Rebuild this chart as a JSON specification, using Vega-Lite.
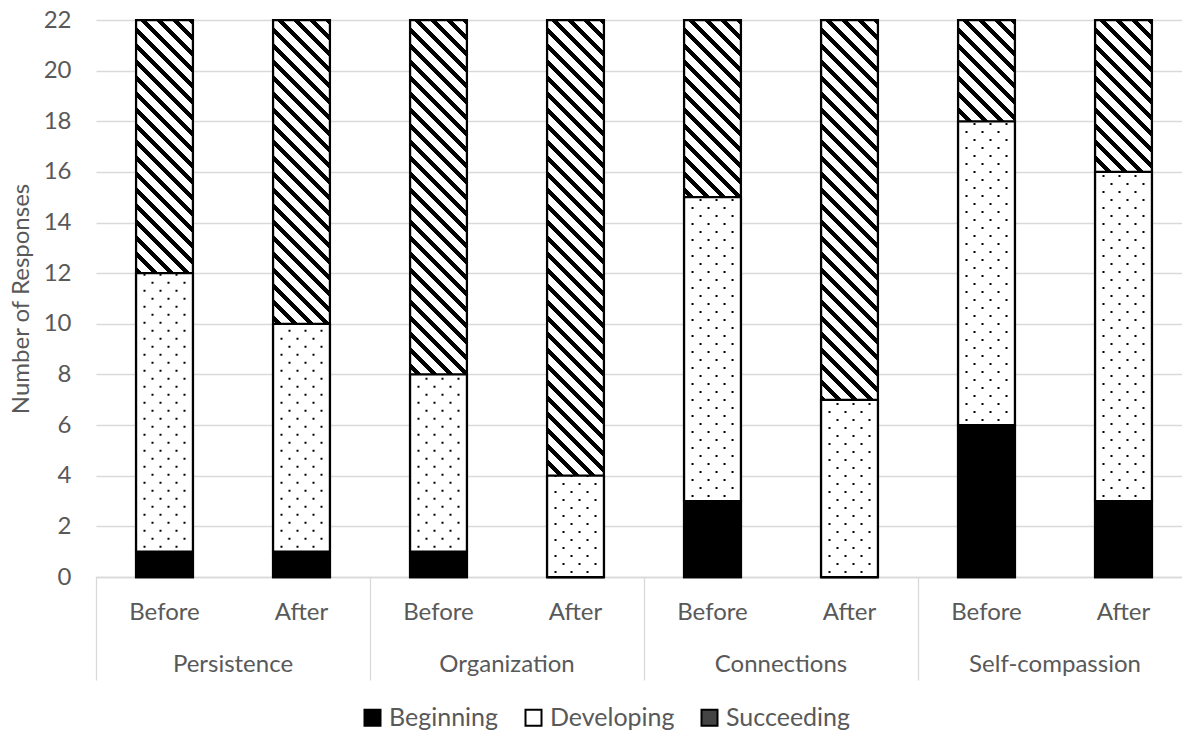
{
  "$schema": "https://vega.github.io/schema/vega-lite/v6.json",
  "width": 1086,
  "height": 557,
  "autosize": "none",
  "padding": {"left": 96, "top": 20, "right": 0, "bottom": 155},
  "config": {
    "view": {"stroke": null},
    "axis": {"labelFont": "Lato", "titleFont": "Lato"},
    "axisY": {
      "domain": false,
      "ticks": false,
      "grid": true,
      "gridColor": "#d9d9d9",
      "gridWidth": 1.3,
      "labelFontSize": 24,
      "labelColor": "#595959",
      "labelPadding": 25,
      "titleFontSize": 24,
      "titleFontWeight": "normal",
      "titleColor": "#595959",
      "titlePadding": 10
    },
    "legend": {"labelFont": "Lato"}
  },
  "data": {
    "values": [
      {"group": "Persistence", "phase": "Before", "bar": "Persistence Before", "series": "Beginning", "count": 1},
      {"group": "Persistence", "phase": "Before", "bar": "Persistence Before", "series": "Developing", "count": 11},
      {"group": "Persistence", "phase": "Before", "bar": "Persistence Before", "series": "Succeeding", "count": 10},
      {"group": "Persistence", "phase": "After", "bar": "Persistence After", "series": "Beginning", "count": 1},
      {"group": "Persistence", "phase": "After", "bar": "Persistence After", "series": "Developing", "count": 9},
      {"group": "Persistence", "phase": "After", "bar": "Persistence After", "series": "Succeeding", "count": 12},
      {"group": "Organization", "phase": "Before", "bar": "Organization Before", "series": "Beginning", "count": 1},
      {"group": "Organization", "phase": "Before", "bar": "Organization Before", "series": "Developing", "count": 7},
      {"group": "Organization", "phase": "Before", "bar": "Organization Before", "series": "Succeeding", "count": 14},
      {"group": "Organization", "phase": "After", "bar": "Organization After", "series": "Beginning", "count": 0},
      {"group": "Organization", "phase": "After", "bar": "Organization After", "series": "Developing", "count": 4},
      {"group": "Organization", "phase": "After", "bar": "Organization After", "series": "Succeeding", "count": 18},
      {"group": "Connections", "phase": "Before", "bar": "Connections Before", "series": "Beginning", "count": 3},
      {"group": "Connections", "phase": "Before", "bar": "Connections Before", "series": "Developing", "count": 12},
      {"group": "Connections", "phase": "Before", "bar": "Connections Before", "series": "Succeeding", "count": 7},
      {"group": "Connections", "phase": "After", "bar": "Connections After", "series": "Beginning", "count": 0},
      {"group": "Connections", "phase": "After", "bar": "Connections After", "series": "Developing", "count": 7},
      {"group": "Connections", "phase": "After", "bar": "Connections After", "series": "Succeeding", "count": 15},
      {"group": "Self-compassion", "phase": "Before", "bar": "Self-compassion Before", "series": "Beginning", "count": 6},
      {"group": "Self-compassion", "phase": "Before", "bar": "Self-compassion Before", "series": "Developing", "count": 12},
      {"group": "Self-compassion", "phase": "Before", "bar": "Self-compassion Before", "series": "Succeeding", "count": 4},
      {"group": "Self-compassion", "phase": "After", "bar": "Self-compassion After", "series": "Beginning", "count": 3},
      {"group": "Self-compassion", "phase": "After", "bar": "Self-compassion After", "series": "Developing", "count": 13},
      {"group": "Self-compassion", "phase": "After", "bar": "Self-compassion After", "series": "Succeeding", "count": 6}
    ]
  },
  "transform": [
    {"stack": "count", "groupby": ["bar"], "sort": [{"field": "series", "order": "ascending"}], "as": ["y0", "y1"]}
  ],
  "layer": [
    {
      "encoding": {
        "x": {
          "field": "bar",
          "type": "nominal",
          "sort": ["Persistence Before", "Persistence After", "Organization Before", "Organization After", "Connections Before", "Connections After", "Self-compassion Before", "Self-compassion After"],
          "scale": {"type": "band", "paddingInner": 0.585, "paddingOuter": 0.2925, "range": [0, 1096]},
          "axis": {
            "title": null,
            "orient": "bottom",
            "labelExpr": "split(datum.label, ' ')[1]",
            "labelAngle": 0,
            "ticks": false,
            "domain": true,
            "domainColor": "#d9d9d9",
            "domainWidth": 1.3,
            "grid": false,
            "labelPadding": 23,
            "labelFontSize": 24,
            "labelColor": "#595959"
          }
        }
      },
      "layer": [
        {
          "transform": [{"filter": "datum.series === 'Succeeding'"}],
          "mark": {
            "type": "bar",
            "stroke": "#000000",
            "strokeWidth": 2.25,
            "fill": {
              "gradient": "linear",
              "x1": 0, "y1": 1, "x2": 0.11133, "y2": -0.09067,
              "stops": [
                {"offset": 0, "color": "#000"}, {"offset": 0.00977, "color": "#000"}, {"offset": 0.00977, "color": "#fff"}, {"offset": 0.02607, "color": "#fff"},
                {"offset": 0.02607, "color": "#000"}, {"offset": 0.03584, "color": "#000"}, {"offset": 0.03584, "color": "#fff"}, {"offset": 0.05213, "color": "#fff"},
                {"offset": 0.05213, "color": "#000"}, {"offset": 0.0619, "color": "#000"}, {"offset": 0.0619, "color": "#fff"}, {"offset": 0.0782, "color": "#fff"},
                {"offset": 0.0782, "color": "#000"}, {"offset": 0.08797, "color": "#000"}, {"offset": 0.08797, "color": "#fff"}, {"offset": 0.10426, "color": "#fff"},
                {"offset": 0.10426, "color": "#000"}, {"offset": 0.11403, "color": "#000"}, {"offset": 0.11403, "color": "#fff"}, {"offset": 0.13033, "color": "#fff"},
                {"offset": 0.13033, "color": "#000"}, {"offset": 0.1401, "color": "#000"}, {"offset": 0.1401, "color": "#fff"}, {"offset": 0.15639, "color": "#fff"},
                {"offset": 0.15639, "color": "#000"}, {"offset": 0.16616, "color": "#000"}, {"offset": 0.16616, "color": "#fff"}, {"offset": 0.18246, "color": "#fff"},
                {"offset": 0.18246, "color": "#000"}, {"offset": 0.19223, "color": "#000"}, {"offset": 0.19223, "color": "#fff"}, {"offset": 0.20852, "color": "#fff"},
                {"offset": 0.20852, "color": "#000"}, {"offset": 0.21829, "color": "#000"}, {"offset": 0.21829, "color": "#fff"}, {"offset": 0.23459, "color": "#fff"},
                {"offset": 0.23459, "color": "#000"}, {"offset": 0.24436, "color": "#000"}, {"offset": 0.24436, "color": "#fff"}, {"offset": 0.26065, "color": "#fff"},
                {"offset": 0.26065, "color": "#000"}, {"offset": 0.27042, "color": "#000"}, {"offset": 0.27042, "color": "#fff"}, {"offset": 0.28672, "color": "#fff"},
                {"offset": 0.28672, "color": "#000"}, {"offset": 0.29649, "color": "#000"}, {"offset": 0.29649, "color": "#fff"}, {"offset": 0.31278, "color": "#fff"},
                {"offset": 0.31278, "color": "#000"}, {"offset": 0.32255, "color": "#000"}, {"offset": 0.32255, "color": "#fff"}, {"offset": 0.33885, "color": "#fff"},
                {"offset": 0.33885, "color": "#000"}, {"offset": 0.34862, "color": "#000"}, {"offset": 0.34862, "color": "#fff"}, {"offset": 0.36491, "color": "#fff"},
                {"offset": 0.36491, "color": "#000"}, {"offset": 0.37468, "color": "#000"}, {"offset": 0.37468, "color": "#fff"}, {"offset": 0.39098, "color": "#fff"},
                {"offset": 0.39098, "color": "#000"}, {"offset": 0.40075, "color": "#000"}, {"offset": 0.40075, "color": "#fff"}, {"offset": 0.41704, "color": "#fff"},
                {"offset": 0.41704, "color": "#000"}, {"offset": 0.42681, "color": "#000"}, {"offset": 0.42681, "color": "#fff"}, {"offset": 0.44311, "color": "#fff"},
                {"offset": 0.44311, "color": "#000"}, {"offset": 0.45288, "color": "#000"}, {"offset": 0.45288, "color": "#fff"}, {"offset": 0.46917, "color": "#fff"},
                {"offset": 0.46917, "color": "#000"}, {"offset": 0.47894, "color": "#000"}, {"offset": 0.47894, "color": "#fff"}, {"offset": 0.49524, "color": "#fff"},
                {"offset": 0.49524, "color": "#000"}, {"offset": 0.50501, "color": "#000"}, {"offset": 0.50501, "color": "#fff"}, {"offset": 0.5213, "color": "#fff"},
                {"offset": 0.5213, "color": "#000"}, {"offset": 0.53107, "color": "#000"}, {"offset": 0.53107, "color": "#fff"}, {"offset": 0.54737, "color": "#fff"},
                {"offset": 0.54737, "color": "#000"}, {"offset": 0.55714, "color": "#000"}, {"offset": 0.55714, "color": "#fff"}, {"offset": 0.57343, "color": "#fff"},
                {"offset": 0.57343, "color": "#000"}, {"offset": 0.5832, "color": "#000"}, {"offset": 0.5832, "color": "#fff"}, {"offset": 0.5995, "color": "#fff"},
                {"offset": 0.5995, "color": "#000"}, {"offset": 0.60927, "color": "#000"}, {"offset": 0.60927, "color": "#fff"}, {"offset": 0.62556, "color": "#fff"},
                {"offset": 0.62556, "color": "#000"}, {"offset": 0.63533, "color": "#000"}, {"offset": 0.63533, "color": "#fff"}, {"offset": 0.65163, "color": "#fff"},
                {"offset": 0.65163, "color": "#000"}, {"offset": 0.6614, "color": "#000"}, {"offset": 0.6614, "color": "#fff"}, {"offset": 0.67769, "color": "#fff"},
                {"offset": 0.67769, "color": "#000"}, {"offset": 0.68746, "color": "#000"}, {"offset": 0.68746, "color": "#fff"}, {"offset": 0.70376, "color": "#fff"},
                {"offset": 0.70376, "color": "#000"}, {"offset": 0.71353, "color": "#000"}, {"offset": 0.71353, "color": "#fff"}, {"offset": 0.72982, "color": "#fff"},
                {"offset": 0.72982, "color": "#000"}, {"offset": 0.73959, "color": "#000"}, {"offset": 0.73959, "color": "#fff"}, {"offset": 0.75589, "color": "#fff"},
                {"offset": 0.75589, "color": "#000"}, {"offset": 0.76566, "color": "#000"}, {"offset": 0.76566, "color": "#fff"}, {"offset": 0.78195, "color": "#fff"},
                {"offset": 0.78195, "color": "#000"}, {"offset": 0.79172, "color": "#000"}, {"offset": 0.79172, "color": "#fff"}, {"offset": 0.80802, "color": "#fff"},
                {"offset": 0.80802, "color": "#000"}, {"offset": 0.81779, "color": "#000"}, {"offset": 0.81779, "color": "#fff"}, {"offset": 0.83408, "color": "#fff"},
                {"offset": 0.83408, "color": "#000"}, {"offset": 0.84385, "color": "#000"}, {"offset": 0.84385, "color": "#fff"}, {"offset": 0.86015, "color": "#fff"},
                {"offset": 0.86015, "color": "#000"}, {"offset": 0.86992, "color": "#000"}, {"offset": 0.86992, "color": "#fff"}, {"offset": 0.88621, "color": "#fff"},
                {"offset": 0.88621, "color": "#000"}, {"offset": 0.89598, "color": "#000"}, {"offset": 0.89598, "color": "#fff"}, {"offset": 0.91228, "color": "#fff"},
                {"offset": 0.91228, "color": "#000"}, {"offset": 0.92205, "color": "#000"}, {"offset": 0.92205, "color": "#fff"}, {"offset": 0.93834, "color": "#fff"},
                {"offset": 0.93834, "color": "#000"}, {"offset": 0.94811, "color": "#000"}, {"offset": 0.94811, "color": "#fff"}, {"offset": 0.96441, "color": "#fff"},
                {"offset": 0.96441, "color": "#000"}, {"offset": 0.97418, "color": "#000"}, {"offset": 0.97418, "color": "#fff"}, {"offset": 0.99047, "color": "#fff"},
                {"offset": 0.99047, "color": "#000"}, {"offset": 1, "color": "#000"}
              ]
            }
          },
          "encoding": {
            "y": {
              "field": "y1",
              "type": "quantitative",
              "scale": {"domain": [0, 22], "nice": false, "zero": true},
              "axis": {"title": "Number of Responses", "values": [0, 2, 4, 6, 8, 10, 12, 14, 16, 18, 20, 22]}
            },
            "y2": {"datum": 0}
          }
        },
        {
          "transform": [{"filter": "datum.series !== 'Succeeding'"}],
          "mark": {"type": "bar", "stroke": "#000000", "strokeWidth": 2.25},
          "encoding": {
            "y": {"field": "y0", "type": "quantitative", "scale": {"domain": [0, 22], "nice": false, "zero": true}, "axis": {"title": "Number of Responses", "values": [0, 2, 4, 6, 8, 10, 12, 14, 16, 18, 20, 22]}},
            "y2": {"field": "y1"},
            "fill": {
              "field": "series",
              "type": "nominal",
              "scale": {"domain": ["Beginning", "Developing", "Succeeding"], "range": ["#000000", "#ffffff", "#444444"]},
              "legend": {
                "title": null,
                "orient": "none",
                "legendX": 264,
                "legendY": 685,
                "direction": "horizontal",
                "padding": 0,
                "symbolType": "square",
                "symbolSize": 256,
                "symbolStrokeColor": "#000000",
                "symbolStrokeWidth": 2,
                "symbolOpacity": 1,
                "labelFontSize": 25,
                "labelColor": "#595959",
                "labelOffset": 4,
                "columnPadding": 22
              }
            }
          }
        },
        {
          "transform": [{"filter": "datum.series === 'Developing'"}],
          "mark": {"type": "rule", "xOffset": -20, "stroke": "#000000", "strokeWidth": 2, "strokeDash": [2, 14], "strokeDashOffset": 12},
          "encoding": {"y": {"field": "y0", "type": "quantitative", "scale": {"domain": [0, 22], "nice": false, "zero": true}, "axis": {"title": "Number of Responses", "values": [0, 2, 4, 6, 8, 10, 12, 14, 16, 18, 20, 22]}}, "y2": {"field": "y1"}}
        },
        {
          "transform": [{"filter": "datum.series === 'Developing'"}],
          "mark": {"type": "rule", "xOffset": -12, "stroke": "#000000", "strokeWidth": 2, "strokeDash": [2, 14], "strokeDashOffset": 4},
          "encoding": {"y": {"field": "y0", "type": "quantitative", "scale": {"domain": [0, 22], "nice": false, "zero": true}, "axis": {"title": "Number of Responses", "values": [0, 2, 4, 6, 8, 10, 12, 14, 16, 18, 20, 22]}}, "y2": {"field": "y1"}}
        },
        {
          "transform": [{"filter": "datum.series === 'Developing'"}],
          "mark": {"type": "rule", "xOffset": -4, "stroke": "#000000", "strokeWidth": 2, "strokeDash": [2, 14], "strokeDashOffset": 12},
          "encoding": {"y": {"field": "y0", "type": "quantitative", "scale": {"domain": [0, 22], "nice": false, "zero": true}, "axis": {"title": "Number of Responses", "values": [0, 2, 4, 6, 8, 10, 12, 14, 16, 18, 20, 22]}}, "y2": {"field": "y1"}}
        },
        {
          "transform": [{"filter": "datum.series === 'Developing'"}],
          "mark": {"type": "rule", "xOffset": 4, "stroke": "#000000", "strokeWidth": 2, "strokeDash": [2, 14], "strokeDashOffset": 4},
          "encoding": {"y": {"field": "y0", "type": "quantitative", "scale": {"domain": [0, 22], "nice": false, "zero": true}, "axis": {"title": "Number of Responses", "values": [0, 2, 4, 6, 8, 10, 12, 14, 16, 18, 20, 22]}}, "y2": {"field": "y1"}}
        },
        {
          "transform": [{"filter": "datum.series === 'Developing'"}],
          "mark": {"type": "rule", "xOffset": 12, "stroke": "#000000", "strokeWidth": 2, "strokeDash": [2, 14], "strokeDashOffset": 12},
          "encoding": {"y": {"field": "y0", "type": "quantitative", "scale": {"domain": [0, 22], "nice": false, "zero": true}, "axis": {"title": "Number of Responses", "values": [0, 2, 4, 6, 8, 10, 12, 14, 16, 18, 20, 22]}}, "y2": {"field": "y1"}}
        },
        {
          "transform": [{"filter": "datum.series === 'Developing'"}],
          "mark": {"type": "rule", "xOffset": 20, "stroke": "#000000", "strokeWidth": 2, "strokeDash": [2, 14], "strokeDashOffset": 4},
          "encoding": {"y": {"field": "y0", "type": "quantitative", "scale": {"domain": [0, 22], "nice": false, "zero": true}, "axis": {"title": "Number of Responses", "values": [0, 2, 4, 6, 8, 10, 12, 14, 16, 18, 20, 22]}}, "y2": {"field": "y1"}}
        }
      ]
    },
    {
      "transform": [{"filter": "datum.series === 'Beginning'"}],
      "mark": {"type": "bar", "opacity": 0},
      "encoding": {
        "x": {
          "field": "group",
          "type": "nominal",
          "sort": ["Persistence", "Organization", "Connections", "Self-compassion"],
          "scale": {"type": "band", "paddingInner": 0, "paddingOuter": 0, "range": [0, 1096]},
          "axis": {
            "title": null,
            "orient": "bottom",
            "labelAngle": 0,
            "domain": false,
            "grid": false,
            "ticks": true,
            "bandPosition": 0,
            "tickSize": 103,
            "tickColor": "#d9d9d9",
            "tickWidth": 1.3,
            "labelPadding": -28,
            "labelFontSize": 24,
            "labelColor": "#595959"
          }
        }
      }
    }
  ],
  "resolve": {"scale": {"x": "independent"}}
}
